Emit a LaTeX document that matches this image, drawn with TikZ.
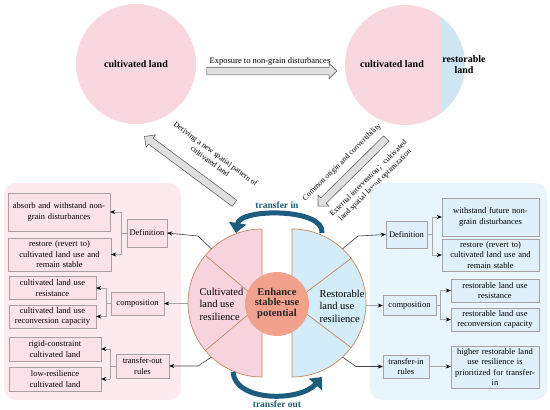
\documentclass[tikz,border=0pt]{standalone}
\usepackage{fontspec}
\setmainfont{Liberation Serif}
\newfontfamily\cjkfont{Noto Sans CJK SC}
\usetikzlibrary{shapes.arrows,arrows.meta}
\definecolor{pinkA}{HTML}{F8D7DF}
\definecolor{blueA}{HTML}{CFE6F3}
\definecolor{panelL}{HTML}{FCEAEF}
\definecolor{panelR}{HTML}{E8F5FC}
\definecolor{boxL}{HTML}{FAE2E8}
\definecolor{boxR}{HTML}{E0F0FA}
\definecolor{halfL}{HTML}{F7D4DD}
\definecolor{halfR}{HTML}{D3ECF8}
\definecolor{rim}{HTML}{C8865C}
\definecolor{core}{HTML}{F2A18D}
\definecolor{tealA}{HTML}{1D5C7E}
\definecolor{boxline}{HTML}{A8A0A2}
\begin{document}
\begin{tikzpicture}[x=1pt,y=1pt,
  lbox/.style={draw=boxline, fill=boxL, align=center, inner sep=2pt, font=\fontsize{8.5}{10.5}\selectfont},
  rbox/.style={draw=boxline, fill=boxR, align=center, inner sep=2pt, font=\fontsize{8.5}{10.5}\selectfont},
  arr/.style={-{Stealth[length=5pt,width=4pt,color=black]}},
  brk/.style={draw=gray!70, line width=0.5pt},
  conn/.style={draw=black!75, line width=0.6pt},
  grayarrow/.style={single arrow, draw=black!60, fill=gray!25, inner sep=3.5pt, single arrow head extend=4pt, single arrow head indent=0pt, line width=0.6pt},
  difont/.style={font=\fontsize{7.8}{9.5}\selectfont, align=center},
  turn/.style={draw=tealA, line width=5pt, -{Triangle[width=17pt,length=10pt]}}
]
\useasboundingbox (0,0) rectangle (550,-410);

% top circles
\node[circle, fill=pinkA, minimum size=120pt, inner sep=0pt] (tl) at (136,-64) {};
\node[font=\bfseries\fontsize{10}{11}\selectfont] (tlt) at (136,-64) {cultivated land};
\node[circle, fill=pinkA, minimum size=120pt, inner sep=0pt] (tr) at (405,-65) {};
\begin{scope}
  \clip (405,-65) circle (60);
  \fill[blueA] (441,0) rectangle (470,-130);
\end{scope}
\node[font=\bfseries\fontsize{10}{11}\selectfont] (trt) at (392,-64) {cultivated land};
\node[font=\bfseries\fontsize{10}{11}\selectfont, align=center] (trr) at (464,-65) {restorable\\land};

% gray arrows
\node[grayarrow, minimum height=130pt] (ha) at (270,-71) {};
\node[font=\fontsize{8.5}{10}\selectfont] (hat) at (270,-61) {Exposure to non-grain disturbances};
\node[grayarrow, minimum height=112pt, rotate=143.4] (dl) at (191,-171) {};
\node[difont, rotate=-36.6] (dlt) at (213,-157.5) {Deriving a new spatial pattern of\\cultivated land};
\node[grayarrow, minimum height=96pt, rotate=224.6] (dr) at (353.5,-171) {};
\node[difont, rotate=44.6] (drt1) at (342,-162.5) {Common origin and convertibility};
\node[difont, rotate=44.6] (drt2) at (372,-182) {External intervention{\cjkfont ；}cultivated\\land spatial layout optimization};

% panels
\fill[panelL, rounded corners=12pt] (4,-183) rectangle (181,-400);
\fill[panelR, rounded corners=12pt] (370,-183) rectangle (547,-400);

% left boxes
\node[lbox, text width=98pt, minimum height=38pt] (la1) at (59,-212) {absorb and withstand non-\\grain disturbances};
\node[lbox, text width=99pt, minimum height=33pt] (la2) at (59.5,-254.5) {restore (revert to)\\cultivated land use and\\remain stable};
\node[lbox, text width=36pt, minimum height=28pt] (ldef) at (147,-233) {Definition};
\node[lbox, text width=83pt, minimum height=23pt] (lb1) at (52.5,-288) {cultivated land use\\resistance};
\node[lbox, text width=83pt, minimum height=23pt] (lb2) at (52.5,-316.5) {cultivated land use\\reconversion capacity};
\node[lbox, text width=49pt, minimum height=23pt] (lcomp) at (137.5,-303.5) {composition};
\node[lbox, text width=88pt, minimum height=24pt] (lc1) at (55,-349) {rigid-constraint\\cultivated land};
\node[lbox, text width=88pt, minimum height=24pt] (lc2) at (55,-379) {low-resilience\\cultivated land};
\node[lbox, text width=49pt, minimum height=24pt] (ltr) at (142.5,-366) {transfer-out\\rules};

% right boxes
\node[rbox, text width=37pt, minimum height=27pt] (rdef) at (406.5,-234.5) {Definition};
\node[rbox, text width=93pt, minimum height=38pt] (ra1) at (490.5,-217) {withstand future non-\\grain disturbances};
\node[rbox, text width=93pt, minimum height=32pt] (ra2) at (490.5,-255) {restore (revert to)\\cultivated land use and\\remain stable};
\node[rbox, text width=49pt, minimum height=20pt] (rcomp) at (409.5,-305.5) {composition};
\node[rbox, text width=84pt, minimum height=23pt] (rb1) at (495,-290.5) {restorable land use\\resistance};
\node[rbox, text width=84pt, minimum height=23pt] (rb2) at (495,-319.5) {restorable land use\\reconversion capacity};
\node[rbox, text width=42pt, minimum height=23pt] (rtr) at (406,-366.5) {transfer-in\\rules};
\node[rbox, text width=84pt, minimum height=42pt] (rc1) at (495,-367) {higher restorable land\\use resilience is\\prioritized for transfer-\\in};

% brackets left
\draw[brk] (ldef.west) -- ++(-6,0) coordinate (bl1);
\draw[brk] (bl1 |- la1) -- (bl1 |- la2);
\draw[brk, arr] (bl1 |- la1) -- (la1.east);
\draw[brk, arr] (bl1 |- la2) -- (la2.east);
\draw[brk] (lcomp.west) -- ++(-5,0) coordinate (bl2);
\draw[brk] (bl2 |- lb1) -- (bl2 |- lb2);
\draw[brk, arr] (bl2 |- lb1) -- (lb1.east);
\draw[brk, arr] (bl2 |- lb2) -- (lb2.east);
\draw[brk] (ltr.west) -- ++(-6,0) coordinate (bl3);
\draw[brk] (bl3 |- lc1) -- (bl3 |- lc2);
\draw[brk, arr] (bl3 |- lc1) -- (lc1.east);
\draw[brk, arr] (bl3 |- lc2) -- (lc2.east);

% brackets right
\draw[brk] (rdef.east) -- ++(5,0) coordinate (br1);
\draw[brk] (br1 |- ra1) -- (br1 |- ra2);
\draw[brk, arr] (br1 |- ra1) -- (ra1.west);
\draw[brk, arr] (br1 |- ra2) -- (ra2.west);
\draw[brk] (rcomp.east) -- ++(4,0) coordinate (br2);
\draw[brk] (br2 |- rb1) -- (br2 |- rb2);
\draw[brk, arr] (br2 |- rb1) -- (rb1.west);
\draw[brk, arr] (br2 |- rb2) -- (rb2.west);
\draw[brk, arr] (rtr.east) -- (rtr.east -| rc1.west);

% central half circles
\filldraw[draw=rim, fill=halfL, line width=0.7pt] (262,-229) arc (90:270:74) -- cycle;
\filldraw[draw=rim, fill=halfR, line width=0.7pt] (292,-229) arc (90:-90:74) -- cycle;
\draw[rim, line width=0.7pt] (262,-303) -- ++(140:74);
\draw[rim, line width=0.7pt] (262,-303) -- ++(220:74);
\draw[rim, line width=0.7pt] (292,-303) -- ++(37:74);
\draw[rim, line width=0.7pt] (292,-303) -- ++(-37:74);
\node[circle, fill=core, minimum size=64pt, inner sep=0pt] (core) at (277,-304) {};
\node[font=\bfseries\fontsize{10.5}{10.5}\selectfont, align=center, text=black!85] (coret) at (277,-303) {Enhance\\stable-use\\potential};
\node[font=\fontsize{10.5}{12.5}\selectfont, align=left, anchor=west] (hlt) at (196,-304) {Cultivated\\land use\\resilience};
\node[font=\fontsize{10.5}{12.5}\selectfont, align=left, anchor=west] (hrt) at (316,-306) {Restorable\\land use\\resilience};

% connectors from circle
\coordinate (cL1) at (211.5,-248.9);
\coordinate (cL2) at (188,-303.5);
\coordinate (cL3) at (211.5,-357.1);
\coordinate (cR1) at (342.5,-248.9);
\coordinate (cR2) at (366,-305.5);
\coordinate (cR3) at (342.5,-357.1);
\draw[conn, arr] (cL1) -- (198,-236) -- (ldef.east);
\draw[brk, arr] (cL2) -- (lcomp.east);
\draw[conn, arr] (cL3) -- (198,-366) -- (ltr.east);
\draw[conn, arr] (cR1) -- (358,-236) -- (rdef.west);
\draw[brk, arr] (cR2) -- (rcomp.west);
\draw[conn, arr] (cR3) -- (356,-366.5) -- (rtr.west);

% transfer arrows
\coordinate (tin1) at (322,-233);
\coordinate (tin2) at (236,-233);
\draw[turn] (tin1) .. controls (325,-208) and (240,-208) .. (tin2);
\node[font=\bfseries\fontsize{9.5}{11}\selectfont, text=tealA] (tint) at (277,-205) {transfer in};
\coordinate (tout1) at (233,-372);
\coordinate (tout2) at (322,-377);
\draw[turn] (tout1) .. controls (235,-402) and (300,-402) .. (tout2);
\node[font=\bfseries\fontsize{9.5}{11}\selectfont, text=tealA] (toutt) at (277,-404) {transfer out};
\end{tikzpicture}
\end{document}
